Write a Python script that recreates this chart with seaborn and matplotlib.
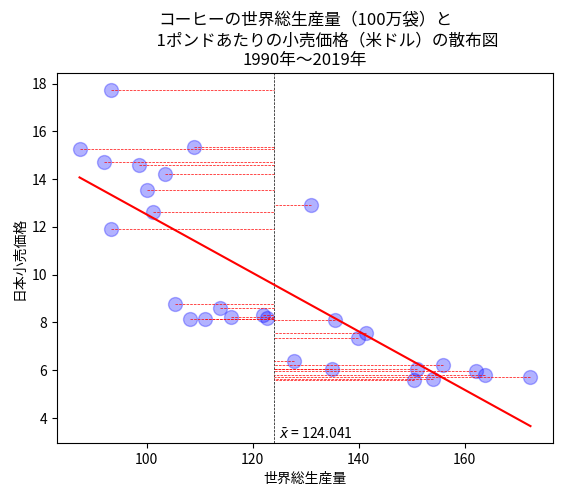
import matplotlib
matplotlib.use("Agg")
import matplotlib.pyplot as plt
import seaborn as sns
import numpy as np
import pandas as pd

# world production (million bags) vs Japan retail price (USD/lb)
production = [93.34, 87.36, 108.87, 91.9, 98.5, 103.4, 100.0, 101.3, 93.2, 130.92,
              105.4, 108.1, 111.1, 113.8, 116.0, 121.9, 122.7,
              135.5, 139.9, 141.4, 127.9, 134.9,
              151.0, 156.0, 150.4, 154.0, 162.2, 163.8, 172.4]
retail_price = [17.74, 15.27, 15.35, 14.72, 14.61, 14.22, 13.55, 12.64, 11.89, 12.92,
                8.77, 8.15, 8.15, 8.62, 8.23, 8.31, 8.19,
                8.12, 7.33, 7.57, 6.40, 6.07,
                6.05, 6.23, 5.57, 5.65, 5.97, 5.80, 5.73]

title = ("コーヒーの世界総生産量（100万袋）と\n"
         "\u3000\u3000   1ポンドあたりの小売価格（米ドル）の散布図\n"
         "1990年～2019年")
xlabel = "世界総生産量"
ylabel = "日本小売価格"

plt.rcParams['font.family'] = ['Noto Sans CJK JP', 'DejaVu Sans']

df = pd.DataFrame({'x': production, 'y': retail_price})
xbar = df['x'].mean()

fig, ax = plt.subplots(figsize=(5.62, 4.96), dpi=100)
fig.subplots_adjust(left=0.1014, right=0.984, top=0.853, bottom=0.107)

sns.scatterplot(data=df, x='x', y='y', s=100, color='blue', alpha=0.3,
                edgecolor='blue', linewidth=1, ax=ax)

# deviation from mean
ax.axvline(xbar, color='black', linestyle='--', linewidth=0.5)
ax.hlines(df['y'], df['x'], xbar, colors='red', linestyles='--', linewidths=0.5)

sns.regplot(data=df, x='x', y='y', scatter=False, ci=None, color='red',
            line_kws={'linewidth': 1.5}, ax=ax)

ax.text(xbar + 1, 3.15, r"$\bar{x}$ = " + f"{xbar:.3f}", fontsize=10)

ax.set_title(title, fontsize=12)
ax.set_xlabel(xlabel)
ax.set_ylabel(ylabel)

plt.savefig('out.png', dpi=100)
